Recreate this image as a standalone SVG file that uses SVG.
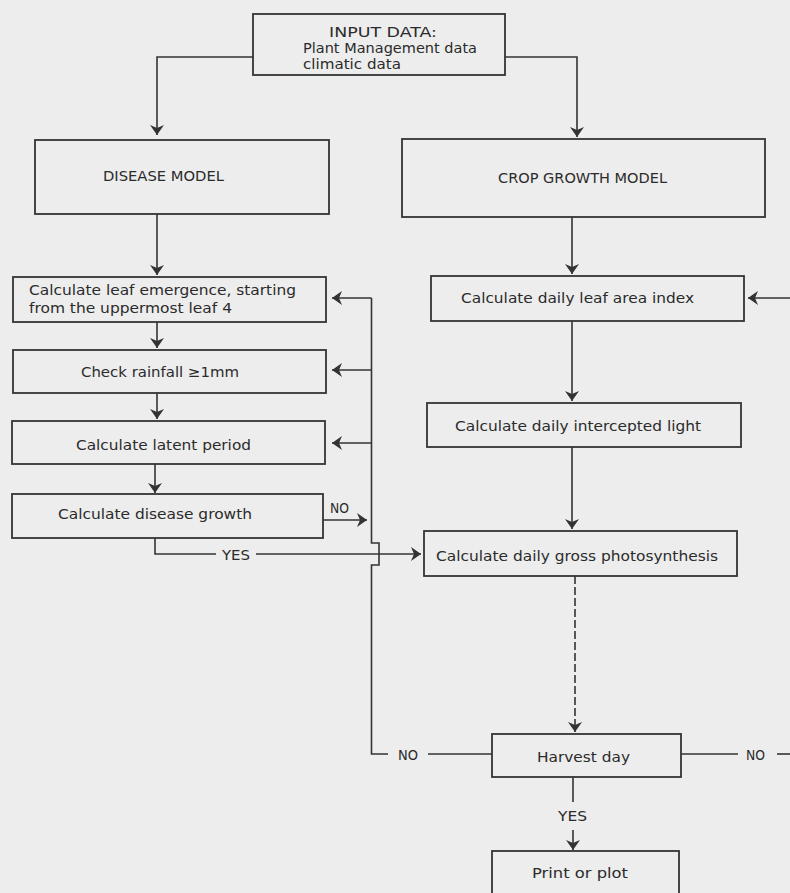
<svg xmlns="http://www.w3.org/2000/svg" width="790" height="893" viewBox="0 0 790 893">
<style>
  .bg { fill: #ededed; }
  .box { fill: none; stroke: #333; stroke-width: 1.8; }
  .line { fill: none; stroke: #333; stroke-width: 1.6; }
  .dash { stroke-dasharray: 8 3; }
  text { font-family: "DejaVu Sans", "Liberation Sans", sans-serif; font-size: 14px; fill: #2b2b2b; }
</style>
<defs>
  <marker id="arrow" viewBox="0 0 10 14" refX="10" refY="7" markerWidth="10" markerHeight="14" markerUnits="userSpaceOnUse" orient="auto">
    <path d="M0,0 L10,7 L0,14 L3,7 z" fill="#333"/>
  </marker>
</defs>
<rect class="bg" x="0" y="0" width="790" height="893"/>

<g id="connectors">
  <path class="line" d="M253,57 H157 V135" marker-end="url(#arrow)"/>
  <path class="line" d="M505,57 H577 V137" marker-end="url(#arrow)"/>
  <path class="line" d="M157,214 V275" marker-end="url(#arrow)"/>
  <path class="line" d="M572,217 V274" marker-end="url(#arrow)"/>
  <path class="line" d="M157,322 V348" marker-end="url(#arrow)"/>
  <path class="line" d="M157,393 V419" marker-end="url(#arrow)"/>
  <path class="line" d="M155,464 V493" marker-end="url(#arrow)"/>
  <path class="line" d="M323,520 H367" marker-end="url(#arrow)"/>
  <text x="330" y="513" textLength="19" lengthAdjust="spacingAndGlyphs">NO</text>
  <path class="line" d="M155,538 V554 H216"/>
  <text x="222" y="560" textLength="28" lengthAdjust="spacingAndGlyphs">YES</text>
  <path class="line" d="M256,554 H421" marker-end="url(#arrow)"/>
  <path class="line" d="M492,754 H428"/>
  <text x="398" y="760" textLength="20" lengthAdjust="spacingAndGlyphs">NO</text>
  <path class="line" d="M388,754 H371.5 V565 H379 V543 H371.5 V298"/>
  <path class="line" d="M371.5,298 H332" marker-end="url(#arrow)"/>
  <path class="line" d="M371.5,370 H332" marker-end="url(#arrow)"/>
  <path class="line" d="M371.5,443 H332" marker-end="url(#arrow)"/>
  <path class="line" d="M572,321 V401" marker-end="url(#arrow)"/>
  <path class="line" d="M572,447 V529" marker-end="url(#arrow)"/>
  <path class="line dash" d="M575,576 V732" marker-end="url(#arrow)"/>
  <path class="line" d="M681,754 H738"/>
  <text x="746" y="760" textLength="19" lengthAdjust="spacingAndGlyphs">NO</text>
  <path class="line" d="M777,754 H790"/>
  <path class="line" d="M790,298 H748" marker-end="url(#arrow)"/>
  <path class="line" d="M573,777 V802"/>
  <text x="558" y="821" textLength="29" lengthAdjust="spacingAndGlyphs">YES</text>
  <path class="line" d="M573,830 V850" marker-end="url(#arrow)"/>
</g>

<g id="input">
  <rect class="box" x="253" y="14" width="252" height="61"/>
  <text x="329" y="37" textLength="108" lengthAdjust="spacingAndGlyphs">INPUT DATA:</text>
  <text x="303" y="53" textLength="174" lengthAdjust="spacingAndGlyphs">Plant Management data</text>
  <text x="303" y="69" textLength="98" lengthAdjust="spacingAndGlyphs">climatic data</text>
</g>
<g id="disease-model">
  <rect class="box" x="35" y="140" width="294" height="74"/>
  <text x="103" y="181" textLength="121" lengthAdjust="spacingAndGlyphs">DISEASE MODEL</text>
</g>
<g id="crop-growth-model">
  <rect class="box" x="402" y="139" width="363" height="78"/>
  <text x="498" y="183" textLength="169" lengthAdjust="spacingAndGlyphs">CROP GROWTH MODEL</text>
</g>
<g id="leaf-emergence">
  <rect class="box" x="13" y="277" width="313" height="45"/>
  <text x="29" y="295" textLength="267" lengthAdjust="spacingAndGlyphs">Calculate leaf emergence, starting</text>
  <text x="29" y="313" textLength="203" lengthAdjust="spacingAndGlyphs">from the uppermost leaf 4</text>
</g>
<g id="check-rainfall">
  <rect class="box" x="13" y="350" width="313" height="43"/>
  <text x="81" y="377" textLength="158" lengthAdjust="spacingAndGlyphs">Check rainfall ≥1mm</text>
</g>
<g id="latent-period">
  <rect class="box" x="12" y="421" width="313" height="43"/>
  <text x="76" y="450" textLength="175" lengthAdjust="spacingAndGlyphs">Calculate latent period</text>
</g>
<g id="disease-growth">
  <rect class="box" x="12" y="494" width="311" height="44"/>
  <text x="58" y="519" textLength="194" lengthAdjust="spacingAndGlyphs">Calculate disease growth</text>
</g>
<g id="leaf-area-index">
  <rect class="box" x="431" y="276" width="313" height="45"/>
  <text x="461" y="303" textLength="233" lengthAdjust="spacingAndGlyphs">Calculate daily leaf area index</text>
</g>
<g id="intercepted-light">
  <rect class="box" x="427" y="403" width="314" height="44"/>
  <text x="455" y="431" textLength="246" lengthAdjust="spacingAndGlyphs">Calculate daily intercepted light</text>
</g>
<g id="gross-photosynthesis">
  <rect class="box" x="424" y="531" width="313" height="45"/>
  <text x="436" y="561" textLength="282" lengthAdjust="spacingAndGlyphs">Calculate daily gross photosynthesis</text>
</g>
<g id="harvest-day">
  <rect class="box" x="492" y="734" width="189" height="43"/>
  <text x="537" y="762" textLength="93" lengthAdjust="spacingAndGlyphs">Harvest day</text>
</g>
<g id="print-or-plot">
  <rect class="box" x="492" y="851" width="187" height="60"/>
  <text x="532" y="878" textLength="96" lengthAdjust="spacingAndGlyphs">Print or plot</text>
</g>
</svg>
